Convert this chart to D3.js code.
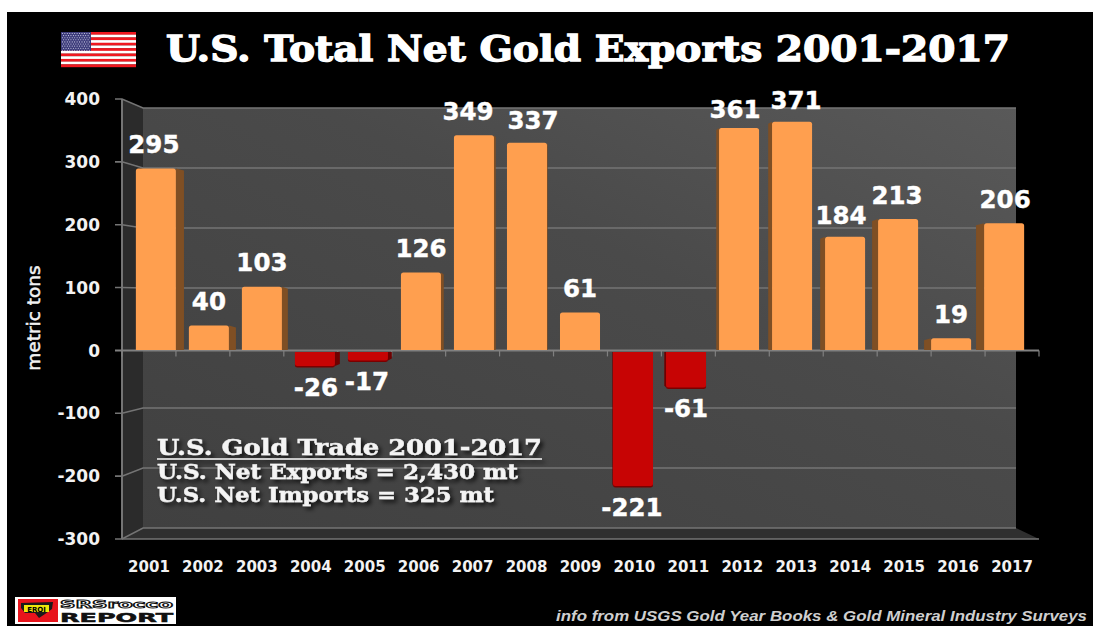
<!DOCTYPE html>
<html>
<head>
<meta charset="utf-8">
<script src="https://cdn.jsdelivr.net/npm/d3@7/dist/d3.min.js"></script>
<style>
  html, body { margin: 0; padding: 0; background: #fff; }
  svg { display: block; }
</style>
</head>
<body>
<svg id="chart" width="1093" height="626"></svg>
<script>
// U.S. net gold exports by year, metric tons
const years = ["2001","2002","2003","2004","2005","2006","2007","2008","2009",
               "2010","2011","2012","2013","2014","2015","2016","2017"];
const netExports = [295,40,103,-26,-17,126,349,337,61,-221,-61,361,371,184,213,19,206];
const yTicks = [400,300,200,100,0,-100,-200,-300];

const chartTitle = "U.S. Total Net Gold Exports 2001-2017";
const yAxisTitle = "metric tons";
const noteLines = ["U.S. Gold Trade 2001-2017", "U.S. Net Exports = 2,430 mt", "U.S. Net Imports = 325 mt"];
const sourceLine = "info from USGS Gold Year Books & Gold Mineral Industry Surveys";

const svg = d3.select("#chart");
const defs = svg.append("defs");

const sans = "'DejaVu Sans', Verdana, sans-serif";
const serif = "'DejaVu Serif', Georgia, serif";

// The 3D box has three depths: the front edge, the plane the bars stand in, and the back wall
const yFront = d3.scaleLinear().domain([400, -300]).range([99, 539]);
const yBack  = d3.scaleLinear().domain([400, -300]).range([108, 528]);
const yBar   = d3.scaleLinear().domain([0, 400]).range([350, 104]);
const xFront = d3.scaleBand().domain(years).range([122, 1039]);
const xBar   = d3.scaleBand().domain(years).range([129.5, 1030.5]).paddingInner(0.245).paddingOuter(0.12);
const wall = { left: 143, right: 1016 };
const vanishX = 580;
const depthK = 0.02;

svg.append("rect").attr("x", 7).attr("y", 12).attr("width", 1086).attr("height", 614).attr("fill", "#000");

// Wall shading
const wallGrad = defs.append("linearGradient").attr("id", "wallGrad")
  .attr("x1", 0).attr("x2", 1).attr("y1", 1).attr("y2", 0);
wallGrad.append("stop").attr("offset", 0).attr("stop-color", "#404040");
wallGrad.append("stop").attr("offset", 0.6).attr("stop-color", "#4a4a4a");
wallGrad.append("stop").attr("offset", 1).attr("stop-color", "#595959");

const softShadow = defs.append("filter").attr("id", "softShadow")
  .attr("x", "-5%").attr("y", "-30%").attr("width", "110%").attr("height", "170%");
softShadow.append("feDropShadow").attr("dx", 3).attr("dy", 3).attr("stdDeviation", 2.2)
  .attr("flood-color", "#000").attr("flood-opacity", 0.75);

const poly = pts => pts.map(p => p.join(",")).join(" ");
const yMax = 400, yMin = -300;

// Side wall, floor and back wall
svg.append("polygon").attr("fill", "#2b2b2b")
  .attr("points", poly([[122, yFront(yMax)], [wall.left, yBack(yMax)], [wall.left, yBack(yMin)], [122, yFront(yMin)]]));
svg.append("polygon").attr("fill", "#2f2f2f")
  .attr("points", poly([[122, yFront(yMin)], [wall.left, yBack(yMin)], [wall.right, yBack(yMin)], [1039, yFront(yMin)]]));
svg.append("rect").attr("x", wall.left).attr("y", yBack(yMax))
  .attr("width", wall.right - wall.left).attr("height", yBack(yMin) - yBack(yMax))
  .attr("fill", "url(#wallGrad)");

// Gridlines run along the back wall, then slant forward to the axis ticks
const grid = svg.append("g").attr("fill", "none").attr("stroke", "#747474").attr("stroke-width", 1.6);
yTicks.filter(t => t !== 0).forEach(t => {
  grid.append("polyline").attr("points", poly([[115, yFront(t)], [122, yFront(t)], [wall.left, yBack(t)], [wall.right, yBack(t)]]));
});
grid.append("line").attr("x1", 122).attr("x2", 122).attr("y1", yFront(yMax)).attr("y2", yFront(yMin)).attr("stroke-width", 2);
grid.append("line").attr("x1", 122).attr("x2", 1039).attr("y1", yFront(yMin)).attr("y2", yFront(yMin));

// Zero axis with a tick at each category boundary
const axisY = yFront(0);
grid.append("line").attr("x1", 115).attr("x2", 1039).attr("y1", axisY).attr("y2", axisY).attr("stroke", "#808080").attr("stroke-width", 2);
[...years.map(y => xFront(y)), 1039].forEach(x => {
  grid.append("line").attr("x1", x).attr("x2", x).attr("y1", axisY).attr("y2", axisY + 6).attr("stroke", "#808080").attr("stroke-width", 1.2);
});

// Bars: front face plus a receding side face toward the vanishing point
const bars = svg.append("g");
years.forEach((year, i) => {
  const v = netExports[i];
  const x0 = xBar(year), x1 = x0 + xBar.bandwidth();
  const yTop = v >= 0 ? yBar(v) : yBar(0) + 2;
  const yEnd = v >= 0 ? yBar(0) : yBar(v);
  const front = v >= 0 ? "#ff9f4f" : "#c70404";
  const side = v >= 0 ? "#7f4f24" : "#6e0000";
  const edge = (x0 + x1) / 2 < vanishX ? x1 : x0;
  const off = (vanishX - edge) * depthK;
  bars.append("polygon").attr("fill", side)
    .attr("points", poly([[edge, yTop], [edge + off, yTop + (v >= 0 ? 2 : 0)], [edge + off, yEnd - (v >= 0 ? 0 : 2)], [edge, yEnd]]));
  if (v < 0) {
    bars.append("rect").attr("x", x0).attr("width", x1 - x0).attr("y", yEnd - 4).attr("height", 5.5)
      .attr("rx", 2.5).attr("fill", "#7a0000");
  }
  const r = 2.5;
  const d = v >= 0
    ? `M${x0},${yEnd}V${yTop + r}Q${x0},${yTop} ${x0 + r},${yTop}H${x1 - r}Q${x1},${yTop} ${x1},${yTop + r}V${yEnd}Z`
    : `M${x0},${yTop}H${x1}V${yEnd - r}Q${x1},${yEnd} ${x1 - r},${yEnd}H${x0 + r}Q${x0},${yEnd} ${x0},${yEnd - r}Z`;
  bars.append("path").attr("d", d).attr("fill", front);
});

// Value labels sit clear of each bar; a few are nudged to avoid crowding
const labelShift = { 2001: -2, 2004: 1, 2005: -1, 2007: -6, 2008: 6, 2012: -4, 2013: 4, 2014: -4, 2015: -1, 2017: 1, 2010: -1 };
const labelLift = { 2012: 5, 2013: 2, 2008: 1, 2014: 2 };
const valueLabels = svg.append("g").attr("font-family", sans).attr("font-weight", "bold")
  .attr("font-size", 24.5).attr("fill", "#fff").attr("stroke", "#fff").attr("stroke-width", 0.4)
  .attr("text-anchor", "middle");
years.forEach((year, i) => {
  const v = netExports[i];
  const cx = xBar(year) + xBar.bandwidth() / 2 + (labelShift[year] || 0);
  const cy = (v >= 0 ? yBar(v) - 24 : yBar(v) + 21) + (labelLift[year] || 0);
  valueLabels.append("text").attr("x", cx).attr("y", cy).attr("dy", "0.36em").text(v);
});

// Axis labels
const axisLabel = "#f2f2f2";
svg.append("g").attr("font-family", sans).attr("font-weight", "bold").attr("font-size", 17)
  .attr("fill", axisLabel).attr("text-anchor", "end")
  .selectAll("text").data(yTicks).join("text")
  .attr("x", 100).attr("y", d => yFront(d)).attr("dy", "0.36em").text(d => d);

svg.append("g").attr("font-family", sans).attr("font-weight", "bold").attr("font-size", 15)
  .attr("fill", axisLabel).attr("text-anchor", "middle")
  .selectAll("text").data(years).join("text")
  .attr("x", d => xFront(d) + xFront.bandwidth() / 2).attr("y", 567).attr("dy", "0.36em").text(d => d);

svg.append("text").attr("transform", "translate(33,318) rotate(-90)")
  .attr("font-family", sans).attr("font-size", 18.5).attr("fill", "#f2f2f2")
  .attr("text-anchor", "middle").attr("dy", "0.36em").attr("stroke", "#f2f2f2").attr("stroke-width", 0.5)
  .text(yAxisTitle);

// Title and flag
svg.append("text").attr("x", 166).attr("y", 61).attr("font-family", serif).attr("font-weight", "bold")
  .attr("font-size", 36).attr("fill", "#fff").attr("textLength", 844).attr("lengthAdjust", "spacingAndGlyphs")
  .attr("stroke", "#fff").attr("stroke-width", 1.3)
  .text(chartTitle);

const flag = svg.append("g").attr("transform", "translate(61,32)");
const flagW = 75, flagH = 35, stripeH = flagH / 13;
d3.range(13).forEach(k => {
  flag.append("rect").attr("x", 0).attr("y", k * stripeH).attr("width", flagW).attr("height", stripeH + 0.2)
    .attr("fill", k % 2 ? "#fff" : "#f01820");
});
flag.append("rect").attr("width", 30).attr("height", stripeH * 7).attr("fill", "#3c3b7a");
d3.range(9).forEach(r => d3.range(r % 2 ? 11 : 12).forEach(c => {
  flag.append("circle").attr("cx", 1.4 + c * 2.45 + (r % 2 ? 1.2 : 0)).attr("cy", 1.5 + r * 2.1)
    .attr("r", 0.55).attr("fill", "#d9d9ee");
}));

// Totals note on the back wall
const note = svg.append("g").attr("font-family", serif).attr("font-weight", "bold").attr("fill", "#f4f4f4")
  .attr("stroke", "#f4f4f4").attr("stroke-width", 0.45).attr("filter", "url(#softShadow)");
note.append("text").attr("x", 157).attr("y", 455).attr("font-size", 23).attr("textLength", 385)
  .attr("lengthAdjust", "spacingAndGlyphs").text(noteLines[0]);
note.append("line").attr("x1", 157).attr("x2", 542).attr("y1", 459).attr("y2", 459)
  .attr("stroke", "#f4f4f4").attr("stroke-width", 1.6);
note.append("text").attr("x", 157).attr("y", 479).attr("font-size", 20).attr("textLength", 361)
  .attr("lengthAdjust", "spacingAndGlyphs").text(noteLines[1]);
note.append("text").attr("x", 157).attr("y", 502).attr("font-size", 20).attr("textLength", 337)
  .attr("lengthAdjust", "spacingAndGlyphs").text(noteLines[2]);

// Source credit
svg.append("text").attr("x", 1087).attr("y", 621).attr("text-anchor", "end")
  .attr("font-family", "'Liberation Sans', Arial, sans-serif").attr("font-style", "italic").attr("font-weight", "bold")
  .attr("font-size", 14.5).attr("fill", "#cfcfcf").attr("textLength", 531).attr("lengthAdjust", "spacingAndGlyphs")
  .text(sourceLine);

// Publisher badge
const badge = svg.append("g").attr("transform", "translate(15,597)");
badge.append("rect").attr("width", 161).attr("height", 27).attr("fill", "#fff");
badge.append("rect").attr("x", 3).attr("y", 2).attr("width", 40).attr("height", 23).attr("fill", "#e8141c");
badge.append("path").attr("d", "M6,6L38,5L37,12L30,17L24,21L20,16L10,16L6,11Z").attr("fill", "#1a1a1a");
badge.append("rect").attr("x", 9).attr("y", 8).attr("width", 25).attr("height", 7).attr("fill", "#f0e60a");
badge.append("text").attr("x", 21.5).attr("y", 14.5).attr("text-anchor", "middle").attr("font-size", 7)
  .attr("font-family", sans).attr("font-weight", "bold").attr("fill", "#000").text("EROI");
badge.append("text").attr("x", 45).attr("y", 10.5).attr("font-family", sans).attr("font-weight", "bold")
  .attr("font-size", 10).attr("fill", "#fff").attr("stroke", "#111").attr("stroke-width", 0.9)
  .attr("textLength", 113).attr("lengthAdjust", "spacingAndGlyphs").text("SRSrocco");
badge.append("text").attr("x", 45).attr("y", 25).attr("font-family", sans).attr("font-weight", "bold")
  .attr("font-size", 12).attr("fill", "#111").attr("stroke", "#111").attr("stroke-width", 0.5)
  .attr("textLength", 113).attr("lengthAdjust", "spacingAndGlyphs").text("REPORT");
</script>
</body>
</html>
